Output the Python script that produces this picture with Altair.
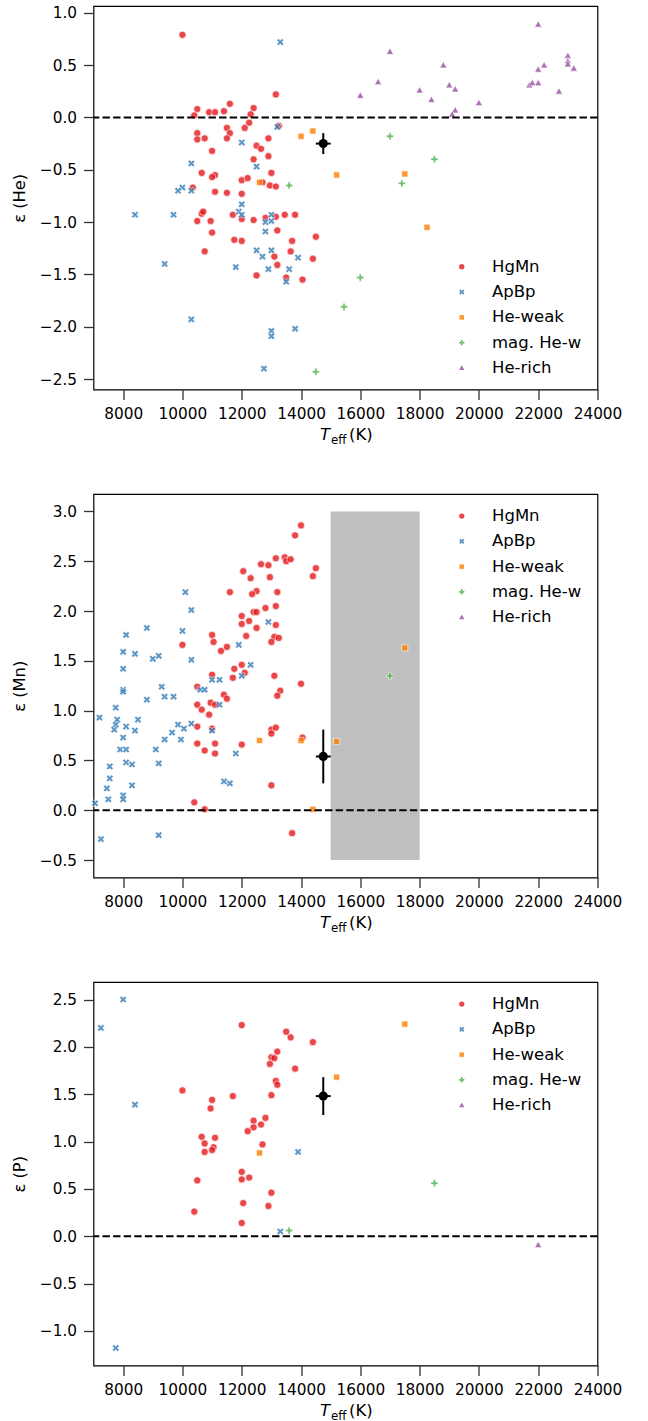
import altair as alt
import pandas as pd

# ---------------------------------------------------------------------------
# Abundance anomalies (epsilon) versus effective temperature, by star class
# ---------------------------------------------------------------------------
CLASSES = ["HgMn", "ApBp", "He-weak", "mag. He-w", "He-rich"]
COLORS = ["#e41a1c", "#377eb8", "#ff7f00", "#4daf4a", "#984ea3"]

# matplotlib-like filled markers in the [-1, 1] symbol box
X_PATH = "M-0.5,-1L0,-0.5L0.5,-1L1,-0.5L0.5,0L1,0.5L0.5,1L0,0.5L-0.5,1L-1,0.5L-0.5,0L-1,-0.5Z"
SQ_PATH = "M-0.86,-0.86L0.86,-0.86L0.86,0.86L-0.86,0.86Z"
P_PATH = ("M-0.333,-1L0.333,-1L0.333,-0.333L1,-0.333L1,0.333L0.333,0.333L0.333,1"
          "L-0.333,1L-0.333,0.333L-1,0.333L-1,-0.333L-0.333,-0.333Z")
TRI_PATH = "M0,-1L1,0.8L-1,0.8Z"
SHAPES = ["circle", X_PATH, SQ_PATH, P_PATH, TRI_PATH]

TEFF_TICKS = [8000, 10000, 12000, 14000, 16000, 18000, 20000, 22000, 24000]

# ---- helium -----------------------------------------------------------------
HE_HGMN = [(10000, 0.79), (13150, 0.22), (10500, 0.08), (10400, 0.02), (10900, 0.05),
           (11100, 0.05), (11400, 0.06), (11600, 0.13), (12400, 0.09), (12300, 0.03),
           (12250, -0.05), (12100, -0.10), (11500, -0.10), (11600, -0.15), (11500, -0.20),
           (10500, -0.15), (10500, -0.21), (10750, -0.20), (11000, -0.32), (12900, -0.20),
           (13250, -0.08), (12500, -0.27), (12650, -0.30), (12400, -0.40), (12900, -0.37),
           (10650, -0.53), (11100, -0.55), (11000, -0.57), (10350, -0.67), (11100, -0.71),
           (11500, -0.72), (12000, -0.60), (12200, -0.58), (12000, -0.73), (13000, -0.53),
           (12950, -0.65), (13150, -0.66), (12700, -0.62), (10650, -0.92), (10700, -0.90),
           (10500, -0.99), (10950, -0.99), (11000, -1.10), (10750, -1.28), (11700, -0.93),
           (11750, -1.17), (12000, -1.18), (12000, -0.97), (12400, -0.98), (12800, -0.96),
           (13150, -0.95), (13450, -0.93), (13800, -0.93), (13200, -1.08), (13100, -1.33),
           (13200, -1.41), (12500, -1.51), (13500, -1.53), (13700, -1.18), (13650, -1.28),
           (14050, -1.55), (14400, -1.35), (14500, -1.14)]
HE_APBP = [(13300, 0.72), (13200, -0.09), (12000, -0.24), (12500, -0.47), (10300, -0.44),
           (10000, -0.67), (9850, -0.70), (10300, -0.70), (12000, -0.83), (11900, -0.90),
           (12000, -0.93), (8400, -0.93), (9700, -0.93), (13000, -0.93), (12800, -1.00),
           (13000, -0.99), (12800, -1.09), (12500, -1.27), (12700, -1.33), (13000, -1.27),
           (12900, -1.45), (13600, -1.45), (13900, -1.34), (13500, -1.57), (11800, -1.43),
           (9400, -1.40), (10300, -1.93), (13000, -2.04), (13000, -2.09), (13800, -2.02),
           (12750, -2.40)]
HE_HEWEAK = [(14000, -0.18), (14400, -0.13), (12600, -0.62), (15200, -0.55),
             (17500, -0.54), (18250, -1.05)]
HE_MAGHEW = [(13600, -0.65), (17000, -0.18), (18500, -0.40), (17400, -0.63),
             (16000, -1.53), (15450, -1.81), (14500, -2.43)]
HE_HERICH = [(22000, 0.89), (17000, 0.63), (16600, 0.34), (16000, 0.21), (18800, 0.50),
             (18000, 0.26), (18400, 0.17), (19000, 0.31), (19200, 0.27), (19200, 0.07),
             (19100, 0.03), (20000, 0.14), (22000, 0.46), (22200, 0.50), (21700, 0.31),
             (21800, 0.33), (22000, 0.33), (22700, 0.25), (23000, 0.59), (23000, 0.54),
             (23000, 0.51), (23200, 0.47)]

# ---- manganese --------------------------------------------------------------
MN_HGMN = [(14000, 2.86), (13800, 2.76), (14500, 2.43), (14400, 2.35), (13150, 2.53),
           (13450, 2.54), (13500, 2.50), (13650, 2.52), (12650, 2.47), (12900, 2.46),
           (12950, 2.34), (12050, 2.40), (12300, 2.33), (11600, 2.19), (12500, 2.20),
           (12350, 2.17), (13200, 2.19), (12400, 1.99), (12500, 1.99), (12800, 2.03),
           (13150, 2.05), (12000, 1.95), (12250, 1.90), (12000, 1.87), (13150, 1.86),
           (12500, 1.83), (12150, 1.75), (13100, 1.74), (13250, 1.73), (13000, 1.69),
           (11000, 1.76), (11050, 1.69), (11300, 1.60), (11500, 1.64), (10000, 1.66),
           (12000, 1.46), (11750, 1.42), (11700, 1.33), (12100, 1.38), (11000, 1.36),
           (13100, 1.35), (14000, 1.27), (10500, 1.24), (13300, 1.20), (13200, 1.15),
           (11400, 1.16), (11500, 1.12), (10500, 1.06), (10650, 1.01), (10950, 1.08),
           (11100, 1.06), (10900, 0.96), (11000, 0.82), (10500, 0.84), (10500, 0.67),
           (11100, 0.67), (10750, 0.60), (11100, 0.57), (12000, 0.66), (13000, 0.81),
           (13000, 0.77), (13150, 0.83), (14050, 0.73), (13000, 0.25), (10400, 0.08),
           (10750, 0.01), (13700, -0.23)]
MN_APBP = [(10100, 2.19), (10300, 2.01), (10000, 1.80), (10300, 1.51), (8800, 1.83),
           (8100, 1.76), (8000, 1.59), (8400, 1.57), (9000, 1.52), (9200, 1.55),
           (8000, 1.42), (9300, 1.24), (8000, 1.21), (8000, 1.19), (12900, 1.89),
           (11900, 1.66), (12300, 1.46), (12000, 1.35), (11000, 1.31), (11250, 1.31),
           (10600, 1.21), (10750, 1.21), (8800, 1.11), (9400, 1.14), (9700, 1.14),
           (11250, 1.06), (7200, 0.93), (7750, 1.03), (7800, 0.91), (7750, 0.86),
           (7700, 0.81), (8100, 0.84), (8400, 0.80), (8500, 0.91), (8000, 0.73),
           (7900, 0.61), (8100, 0.61), (8100, 0.48), (8300, 0.46), (7550, 0.44),
           (7550, 0.32), (7450, 0.22), (7500, 0.11), (8000, 0.15), (8000, 0.11),
           (8300, 0.25), (7050, 0.07), (7250, -0.29), (9100, 0.61), (9200, 0.47),
           (9200, -0.25), (9650, 0.78), (9400, 0.71), (9850, 0.86), (10050, 0.82),
           (9950, 0.71), (10300, 0.87), (11000, 0.80), (11800, 0.57), (11400, 0.29),
           (11600, 0.27)]
MN_HEWEAK = [(12600, 0.70), (14000, 0.70), (14400, 0.01), (15200, 0.69), (17500, 1.63)]
MN_MAGHEW = [(17000, 1.35)]
MN_HERICH = []
MN_BAND = {"t0": 15000, "t1": 18000, "e0": -0.5, "e1": 3.0}

# ---- phosphorus -------------------------------------------------------------
P_HGMN = [(10000, 1.54), (12000, 2.23), (13500, 2.16), (13650, 2.10), (14400, 2.05),
          (13200, 1.95), (13000, 1.89), (13100, 1.88), (12950, 1.82), (13800, 1.77),
          (13150, 1.64), (13200, 1.60), (13000, 1.49), (11700, 1.48), (11000, 1.44),
          (10950, 1.35), (12800, 1.25), (12400, 1.22), (12650, 1.18), (12400, 1.15),
          (12200, 1.11), (12700, 0.97), (10650, 1.05), (10750, 0.98), (11100, 1.04),
          (11050, 0.94), (11000, 0.91), (10750, 0.89), (10500, 0.59), (12000, 0.68),
          (12000, 0.60), (12250, 0.62), (13000, 0.46), (10400, 0.26), (12050, 0.35),
          (12000, 0.14), (12900, 0.32)]
P_APBP = [(7250, 2.20), (8000, 2.50), (8400, 1.39), (13900, 0.89), (13300, 0.05),
          (7750, -1.18)]
P_HEWEAK = [(12600, 0.88), (17500, 2.24), (15200, 1.68)]
P_MAGHEW = [(18500, 0.56), (13600, 0.06)]
P_HERICH = [(22000, -0.09)]

# ---- the programme star -------------------------------------------------------
STAR_TEFF, STAR_TEFF_ERR = 14750, 250
STAR_EPS = {"He": (-0.25, 0.10), "Mn": (0.54, 0.27), "P": (1.48, 0.20)}

W, H = 504, 383.5
FONT = "DejaVu Sans"


def class_table(groups):
    rows = []
    for cls, pts in zip(CLASSES, groups):
        rows += [{"teff": t, "eps": e, "cls": cls} for t, e in pts]
    return pd.DataFrame(rows, columns=["teff", "eps", "cls"])


def panel(groups, element, y_domain, y_ticks, legend_y, band=None):
    x_scale = alt.Scale(domain=[7000, 24000], nice=False, zero=False)
    x_enc = alt.X("teff:Q", scale=x_scale,
                  axis=alt.Axis(values=TEFF_TICKS, format="d", title=None, labelFlush=False))
    y_scale = alt.Scale(domain=y_domain, nice=False, zero=False)
    y_axis = alt.Axis(values=y_ticks, format=".1f", title=f"ε ({element})")

    legend = alt.Legend(title=None, orient="none", legendX=360, legendY=legend_y,
                        padding=0, symbolSize=28, labelFont=FONT, labelFontSize=16.5,
                        labelColor="black", rowPadding=8.3, labelOffset=22,
                        symbolStrokeColor="white", symbolStrokeWidth=0.5,
                        symbolOpacity=0.8)

    layers = []
    if band is not None:
        layers.append(
            alt.Chart(pd.DataFrame([band])).mark_rect(color="#bfbfbf").encode(
                x=alt.X("t0:Q", scale=x_scale),
                x2="t1:Q",
                y=alt.Y("e0:Q", scale=y_scale),
                y2="e1:Q",
            )
        )

    layers.append(
        alt.Chart(class_table(groups)).mark_point(
            filled=True, size=52, opacity=0.8, stroke="white", strokeWidth=0.7
        ).encode(
            x=x_enc,
            y=alt.Y("eps:Q", scale=y_scale, axis=y_axis),
            color=alt.Color("cls:N", scale=alt.Scale(domain=CLASSES, range=COLORS), legend=legend),
            shape=alt.Shape("cls:N", scale=alt.Scale(domain=CLASSES, range=SHAPES), legend=legend),
        )
    )

    # solar reference level
    layers.append(
        alt.Chart(pd.DataFrame({"zero": [0.0]})).mark_rule(
            color="black", strokeWidth=2, strokeDash=[7.4, 3.2]
        ).encode(y=alt.Y("zero:Q", scale=y_scale))
    )

    eps, err = STAR_EPS[element]
    star = pd.DataFrame({"teff": [STAR_TEFF], "tlo": [STAR_TEFF - STAR_TEFF_ERR],
                         "thi": [STAR_TEFF + STAR_TEFF_ERR], "eps": [eps],
                         "elo": [eps - err], "ehi": [eps + err]})
    sbase = alt.Chart(star)
    layers.append(sbase.mark_rule(color="black", strokeWidth=2).encode(
        x="teff:Q", y=alt.Y("elo:Q", scale=y_scale), y2="ehi:Q"))
    layers.append(sbase.mark_rule(color="black", strokeWidth=2).encode(
        x="tlo:Q", x2="thi:Q", y=alt.Y("eps:Q", scale=y_scale)))
    layers.append(sbase.mark_circle(color="black", opacity=1, size=85).encode(
        x="teff:Q", y=alt.Y("eps:Q", scale=y_scale)))

    # x-axis title: T_eff (K)
    one = alt.Data(values=[{}])
    layers.append(alt.Chart(one).mark_text(
        text="T", font=FONT, fontSize=16.5, fontStyle="italic", align="left",
        baseline="alphabetic", color="black", x=226.5, y=H + 50.5))
    layers.append(alt.Chart(one).mark_text(
        text="eff", font=FONT, fontSize=11.8, align="left",
        baseline="alphabetic", color="black", x=237.5, y=H + 54))
    layers.append(alt.Chart(one).mark_text(
        text="(K)", font=FONT, fontSize=16.5, align="left",
        baseline="alphabetic", color="black", x=255.5, y=H + 50.5))

    return alt.layer(*layers).properties(width=W, height=H)


he = panel([HE_HGMN, HE_APBP, HE_HEWEAK, HE_MAGHEW, HE_HERICH], "He",
           [-2.6, 1.065], [-2.5, -2.0, -1.5, -1.0, -0.5, 0.0, 0.5, 1.0], 252.5)
mn = panel([MN_HGMN, MN_APBP, MN_HEWEAK, MN_MAGHEW, MN_HERICH], "Mn",
           [-0.675, 3.175], [-0.5, 0.0, 0.5, 1.0, 1.5, 2.0, 2.5, 3.0], 13.8, band=MN_BAND)
ph = panel([P_HGMN, P_APBP, P_HEWEAK, P_MAGHEW, P_HERICH], "P",
           [-1.365, 2.685], [-1.0, -0.5, 0.0, 0.5, 1.0, 1.5, 2.0, 2.5], 13.8)

chart = (
    alt.vconcat(he, mn, ph, spacing=104, bounds="flush")
    .resolve_scale(x="independent", y="independent", color="independent", shape="independent")
    .resolve_legend(color="independent", shape="independent")
    .properties(padding={"left": 10.5, "top": 5, "right": 10, "bottom": 2})
    .configure_view(stroke="black", strokeWidth=1.2)
    .configure_axis(domain=False, grid=False, ticks=True, tickSize=10, tickWidth=1.3,
                    tickColor="#333333", labelFont=FONT, labelFontSize=15.3,
                    labelColor="black", labelPadding=7, titleFont=FONT,
                    titleFontSize=16.3, titleFontWeight="normal", titleColor="black")
    .configure_axisY(titlePadding=12)
)

chart.save("out.html", embed_options={"renderer": "svg", "actions": False})
